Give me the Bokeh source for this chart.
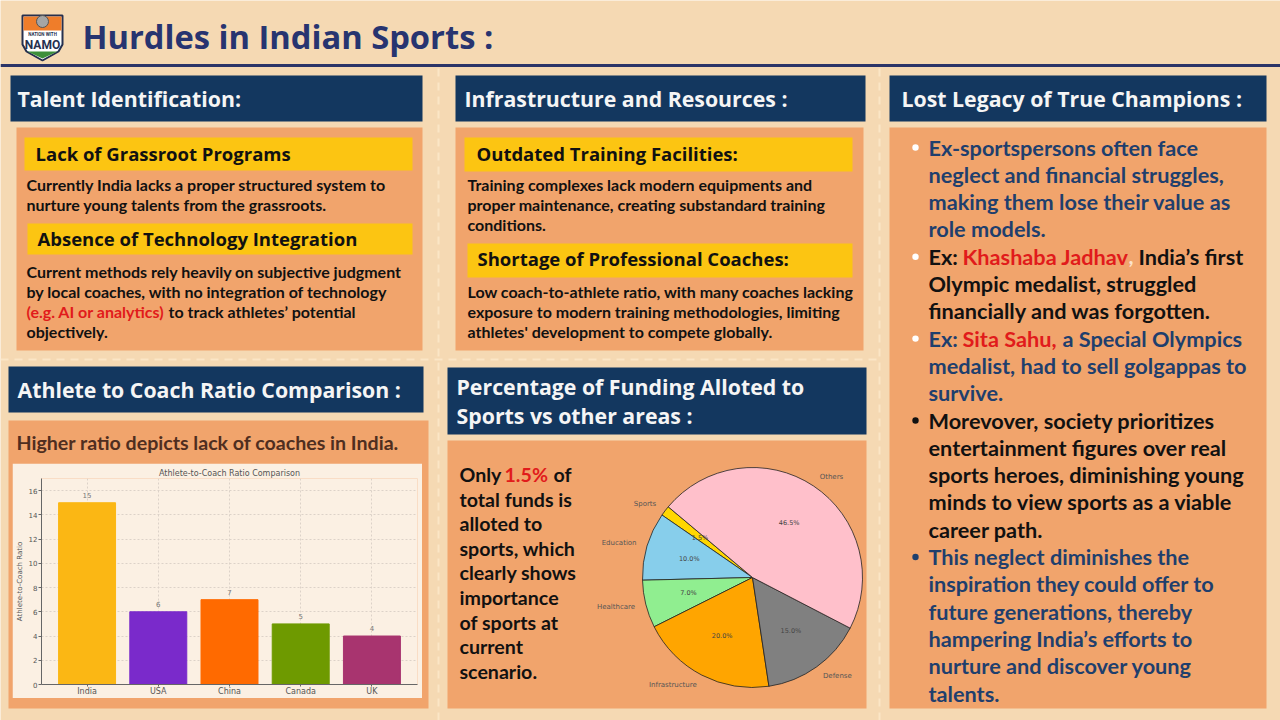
import numpy as np
from bokeh.plotting import figure
from bokeh.models import Range1d, ColumnDataSource, LabelSet, SingleIntervalTicker, FactorRange
from bokeh.core.properties import value
from bokeh.embed import file_html
from bokeh.resources import INLINE

# ---------------- data ----------------
countries = ["India", "USA", "China", "Canada", "UK"]
ratios = [15, 6, 7, 5, 4]
bar_colors = ["#fbb714", "#7a2acb", "#ff6a00", "#6e9a00", "#a8346f"]

sectors = ["Sports", "Education", "Healthcare", "Infrastructure", "Defense", "Others"]
shares = [1.5, 10.0, 7.0, 20.0, 15.0, 46.5]
pie_colors = ["#ffd700", "#87ceeb", "#90ee90", "#ffa500", "#808080", "#ffc0cb"]
pie_start_deg = 140

title_text = "Hurdles in Indian Sports :"
headers = ["Talent Identification:", "Infrastructure and Resources :",
           "Lost Legacy of True Champions :", "Athlete to Coach Ratio Comparison :",
           "Percentage of Funding Alloted to", "Sports vs other areas :"]
sub_heads = ["Lack of Grassroot Programs", "Absence of Technology Integration",
             "Outdated Training Facilities:", "Shortage of Professional Coaches:"]
p1_a = ["Currently India lacks a proper structured system to",
        "nurture young talents from the grassroots."]
p1_b = ["Current methods rely heavily on subjective judgment",
        "by local coaches, with no integration of technology"]
p1_b_red = "(e.g. AI or analytics)"
p1_b_rest = "to track athletes’ potential"
p1_b_last = "objectively."
p2_a = ["Training complexes lack modern equipments and",
        "proper maintenance, creating substandard training",
        "conditions."]
p2_b = ["Low coach-to-athlete ratio, with many coaches lacking",
        "exposure to modern training methodologies, limiting",
        "athletes' development to compete globally."]
p4_note = "Higher ratio depicts lack of coaches in India."
p5_lines = ["total funds is", "alloted to", "sports, which", "clearly shows",
            "importance", "of sports at", "current", "scenario."]

# ---------------- styles ----------------
BG = "#f5d9b3"
ORANGE = "#f1a46c"
NAVY = "#13375f"
YELLOW = "#fcc512"
RED = "#e11b1b"
N3 = "#1f3f6d"
K = "#111111"

p = figure(width=1280, height=720, x_range=Range1d(0, 1280), y_range=Range1d(720, 0),
           output_backend="svg", toolbar_location=None, min_border=0)
p.axis.visible = False
p.grid.visible = False
p.outline_line_color = None
p.background_fill_color = BG
p.border_fill_color = BG


def txt(x, y, s, size, color=K, font="Lato", style="bold", align="left"):
    p.text(x=[x], y=[y], text=[s], text_font=value(font), text_font_size=f"{size}px",
           text_font_style=style, text_color=color, text_align=align, text_baseline="middle")


# header rule and separators
p.segment(x0=[0], y0=[65], x1=[1280], y1=[65], line_color="#2b3468", line_width=3)
p.segment(x0=[438, 879, 0], y0=[68, 68, 359], x1=[438, 879, 879], y1=[720, 720, 359],
          line_color="#fbe6c6", line_width=2, line_dash="8 6")

# panels
navy_boxes = [(10, 422, 75, 121), (455, 865, 75, 121), (889, 1266, 75, 121),
              (8, 423, 366, 412), (447, 866, 367, 434)]
orange_boxes = [(16, 422, 127, 350), (455, 863, 127, 350), (889, 1266, 127, 708),
                (8, 428, 420, 708), (447, 866, 440, 708)]
yellow_boxes = [(24, 412, 137, 170), (27, 412, 223, 254), (464, 852, 137, 171), (467, 852, 243, 277)]
for boxes, col in ((orange_boxes, ORANGE), (navy_boxes, NAVY), (yellow_boxes, YELLOW)):
    p.quad(left=[b[0] for b in boxes], right=[b[1] for b in boxes],
           top=[b[2] for b in boxes], bottom=[b[3] for b in boxes],
           fill_color=col, line_color=None)

# logo
p.patch(x=[22, 62, 62, 58, 42, 26, 22], y=[15, 15, 44, 51, 60, 51, 44],
        fill_color="#ffffff", line_color="#26304f", line_width=2)
p.patch(x=[23, 61, 61, 23], y=[16, 16, 30, 30], fill_color="#ef7d2a", line_color=None)
p.patch(x=[27, 57, 42], y=[51, 51, 58], fill_color="#3d8f3a", line_color=None)
p.circle(x=[42], y=[21], radius=6, fill_color="#a5a5a5", line_color="#555555")
txt(42, 34, "NATION WITH", 4.5, "#26304f", "Roboto", "bold", "center")
txt(42, 44, "NAMO", 12, "#26304f", "Roboto", "bold", "center")

# title
txt(82, 36, title_text, 32.7, "#273470", "Open Sans", "bold")

# navy header texts
hpos = [(17, 98), (464, 98), (901, 98), (17, 389), (456, 386), (456, 415)]
for (x, y), s in zip(hpos, headers):
    txt(x, y, s, 21.3, "#f5f5f5", "Open Sans", "bold")

# panel 1
txt(35, 153, sub_heads[0], 18.5, K, "Open Sans", "bold")
for i, s in enumerate(p1_a):
    txt(26, 184 + 20 * i, s, 16, K)
txt(37, 238, sub_heads[1], 18.5, K, "Open Sans", "bold")
for i, s in enumerate(p1_b):
    txt(26, 271 + 20 * i, s, 16, K)
txt(26, 311, p1_b_red, 16, RED)
txt(168, 311, p1_b_rest, 16, K)
txt(26, 331, p1_b_last, 16, K)

# panel 2
txt(476, 153, sub_heads[2], 18.5, K, "Open Sans", "bold")
for i, s in enumerate(p2_a):
    txt(467, 184 + 20 * i, s, 16, K)
txt(477, 258, sub_heads[3], 18.5, K, "Open Sans", "bold")
for i, s in enumerate(p2_b):
    txt(467, 291 + 20 * i, s, 16, K)

# panel 3 (rich text lines)
p3 = [
    [(928, "Ex-sportspersons often face", N3)],
    [(928, "neglect and financial struggles,", N3)],
    [(928, "making them lose their value as", N3)],
    [(928, "role models.", N3)],
    [(928, "Ex:", K), (962, "Khashaba Jadhav", RED), (1128, ",", "#fde3cc"), (1138, "India’s first", K)],
    [(928, "Olympic medalist, struggled", K)],
    [(928, "financially and was forgotten.", K)],
    [(928, "Ex:", N3), (962, "Sita Sahu,", RED), (1062, "a Special Olympics", N3)],
    [(928, "medalist, had to sell golgappas to", N3)],
    [(928, "survive.", N3)],
    [(928, "Morevover, society prioritizes", K)],
    [(928, "entertainment figures over real", K)],
    [(928, "sports heroes, diminishing young", K)],
    [(928, "minds to view sports as a viable", K)],
    [(928, "career path.", K)],
    [(928, "This neglect diminishes the", N3)],
    [(928, "inspiration they could offer to", N3)],
    [(928, "future generations, thereby", N3)],
    [(928, "hampering India’s efforts to", N3)],
    [(928, "nurture and discover young", N3)],
    [(928, "talents.", N3)],
]
for i, segs in enumerate(p3):
    y = 147 + 27.3 * i
    for x, s, c in segs:
        txt(x, y, s, 21.7, c)
bullet_lines = [0, 4, 7, 10, 15]
bullet_cols = ["#ffffff", "#ffffff", "#ffffff", "#111111", "#1f3f6d"]
p.circle(x=[915] * 5, y=[147 + 27.3 * i for i in bullet_lines], radius=3.2,
         fill_color=bullet_cols, line_color=None)

# panel 4 note
txt(16, 442, p4_note, 19.6, "#4f2e20")

# panel 5 text
txt(459, 474, "Only", 19.6, K)
txt(504, 474, "1.5%", 19.6, RED)
txt(553, 474, "of", 19.6, K)
for i, s in enumerate(p5_lines):
    txt(459, 498.5 + 24.6 * i, s, 19.6, K)

# ---------------- bar chart ----------------
bsrc = ColumnDataSource(dict(country=countries, ratio=ratios, color=bar_colors,
                             label=[str(r) for r in ratios]))
b = figure(width=410, height=235, x_range=FactorRange(factors=countries, range_padding=0.056),
           y_range=Range1d(0, 17), output_backend="svg", toolbar_location=None,
           min_border_left=25, min_border_right=5, min_border_top=15, min_border_bottom=10,
           title="Athlete-to-Coach Ratio Comparison")
b.title.text_font = "DejaVu Sans"
b.title.text_font_size = "8px"
b.title.text_font_style = "normal"
b.title.text_color = "#555555"
b.title.align = "center"
b.title.standoff = 2
b.background_fill_color = "#fbf0e3"
b.border_fill_color = "#fbf0e3"
b.outline_line_color = None
b.vbar(x="country", top="ratio", width=0.8, fill_color="color", line_color="color", source=bsrc)
b.add_layout(LabelSet(x="country", y="ratio", text="label", source=bsrc, y_offset=5,
                      text_align="center", text_baseline="bottom", text_font_size="7px",
                      text_color="#777777", text_font=value("DejaVu Sans")))
b.yaxis.ticker = SingleIntervalTicker(interval=2, num_minor_ticks=0)
b.yaxis.axis_label = "Athlete-to-Coach Ratio"
b.yaxis.axis_label_text_font_size = "7px"
b.yaxis.axis_label_text_font_style = "normal"
b.yaxis.axis_label_text_color = "#555555"
b.yaxis.axis_label_standoff = 2
b.yaxis.axis_label_text_font = "DejaVu Sans"
for ax in (b.xaxis, b.yaxis):
    ax.axis_line_color = "#666666"
    ax.major_tick_line_color = "#666666"
    ax.major_tick_out = 3
    ax.major_tick_in = 0
    ax.minor_tick_line_color = None
    ax.major_label_text_color = "#555555"
    ax.major_label_text_font = "DejaVu Sans"
    ax.major_label_standoff = 1
b.xaxis.major_tick_out = 2
b.xaxis.major_label_standoff = 0
b.yaxis.major_label_text_font_size = "7px"
b.xaxis.major_label_text_font_size = "8px"
b.xgrid.grid_line_color = "#dcd2c8"
b.xgrid.grid_line_dash = "2 2"
b.ygrid.grid_line_color = "#dcd2c8"
b.ygrid.grid_line_dash = "2 2"

# ---------------- pie chart ----------------
fr = np.array(shares) / np.sum(shares)
cum = np.cumsum(fr)
start = np.radians(pie_start_deg) + 2 * np.pi * (cum - fr)
end = start + 2 * np.pi * fr
mid = (start + end) / 2
psrc = ColumnDataSource(dict(start=start, end=end, color=pie_colors))
q = figure(width=280, height=245, x_range=Range1d(-1.4727, 1.0727), y_range=Range1d(-1.118, 1.109),
           output_backend="svg", toolbar_location=None, min_border=0)
q.axis.visible = False
q.grid.visible = False
q.outline_line_color = None
q.background_fill_color = None
q.border_fill_color = None
q.wedge(x=0, y=0, radius=1, start_angle="start", end_angle="end", fill_color="color",
        line_color="#222222", line_width=0.8, source=psrc)
lx = 1.1 * np.cos(mid)
ly = 1.1 * np.sin(mid)
right = lx > 0
for mask, al in ((right, "left"), (~right, "right")):
    q.text(x=lx[mask], y=ly[mask], text=list(np.array(sectors)[mask]), text_align=al,
           text_baseline="middle", text_font_size="7px", text_color="#555555",
           text_font=value("DejaVu Sans"))
q.text(x=0.6 * np.cos(mid), y=0.6 * np.sin(mid), text=[f"{s:.1f}%" for s in shares],
       text_align="center", text_baseline="middle", text_font_size="6.5px", text_color="#444444",
       text_font=value("DejaVu Sans"))

b.styles = {"position": "absolute", "left": "12px", "top": "463px"}
q.styles = {"position": "absolute", "left": "590px", "top": "455px"}

open("out.html", "w").write(file_html([p, b, q], INLINE))
